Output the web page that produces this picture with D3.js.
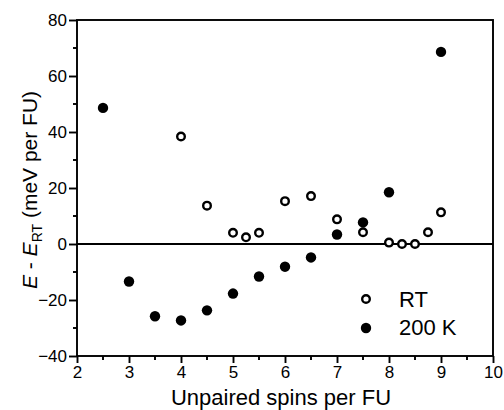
<!DOCTYPE html>
<html><head><meta charset="utf-8">
<script src="https://cdn.jsdelivr.net/npm/d3@7"></script>
<style>
body{margin:0;background:#fff;}
text{font-family:"Liberation Sans",Arial,sans-serif;fill:#000;}
</style></head>
<body><svg id="c" width="504" height="410"></svg>
<script>
const rtX = [4, 4.5, 5, 5.25, 5.5, 6, 6.5, 7, 7.5, 8, 8.25, 8.5, 8.75, 9];
const rtY = [38.4, 13.7, 4.0, 2.4, 4.0, 15.3, 17.1, 8.8, 4.2, 0.5, 0, 0, 4.2, 11.3];
const k200X = [2.5, 3, 3.5, 4, 4.5, 5, 5.5, 6, 6.5, 7, 7.5, 8, 9];
const k200Y = [48.6, -13.4, -25.8, -27.3, -23.7, -17.7, -11.6, -8.1, -4.8, 3.4, 7.7, 18.5, 68.6];
const xTicks = [2, 3, 4, 5, 6, 7, 8, 9, 10];
const yTicks = [-40, -20, 0, 20, 40, 60, 80];
const legendLabels = ["RT", "200 K"];

const svg = d3.select("#c");
const L = 77, R = 493, T = 20, B = 356;
const x = d3.scaleLinear().domain([2, 10]).range([L, R]);
const y = d3.scaleLinear().domain([-40, 80]).range([B, T]);
const SW = 1.9;

// box
svg.append("rect").attr("x", L).attr("y", T).attr("width", R - L).attr("height", B - T)
  .attr("fill", "none").attr("stroke", "#000").attr("stroke-width", SW);

// zero line
svg.append("line").attr("x1", L).attr("x2", R).attr("y1", y(0)).attr("y2", y(0))
  .attr("stroke", "#000").attr("stroke-width", SW);

// x axis
const xMinor = d3.range(2.5, 10, 1);
const gx = svg.append("g").attr("transform", `translate(0,${B})`)
  .call(d3.axisBottom(x).tickValues(xTicks).tickFormat(d3.format("d")).tickSize(7).tickPadding(3));
gx.select(".domain").remove();
gx.selectAll("line").attr("stroke", "#000").attr("stroke-width", SW);
gx.selectAll("text").attr("fill", "#000").style("font-size", "17px").style("font-family", "Liberation Sans, Arial, sans-serif");
svg.append("g").selectAll("line").data(xMinor).join("line")
  .attr("x1", d => x(d)).attr("x2", d => x(d)).attr("y1", B).attr("y2", B + 4)
  .attr("stroke", "#000").attr("stroke-width", SW);

// y axis
const yMinor = d3.range(-30, 80, 20);
const gy = svg.append("g").attr("transform", `translate(${L},0)`)
  .call(d3.axisLeft(y).tickValues(yTicks).tickFormat(d3.format("d")).tickSize(8).tickPadding(2));
gy.select(".domain").remove();
gy.selectAll("line").attr("stroke", "#000").attr("stroke-width", SW);
gy.selectAll("text").attr("fill", "#000").style("font-size", "17px").style("font-family", "Liberation Sans, Arial, sans-serif");
svg.append("g").selectAll("line").data(yMinor).join("line")
  .attr("x1", L - 4).attr("x2", L).attr("y1", d => y(d)).attr("y2", d => y(d))
  .attr("stroke", "#000").attr("stroke-width", SW);

// axis titles
svg.append("text").attr("x", (L + R) / 2 - 4).attr("y", 405).attr("text-anchor", "middle")
  .style("font-size", "22px").text("Unpaired spins per FU");

const yt = svg.append("text").attr("transform", `translate(37,${(T + B) / 2 + 2}) rotate(-90)`)
  .attr("text-anchor", "middle").style("font-size", "21px");
yt.append("tspan").style("font-style", "italic").text("E");
yt.append("tspan").text(" - ");
yt.append("tspan").style("font-style", "italic").text("E");
yt.append("tspan").attr("dy", 5).style("font-size", "14px").text("RT");
yt.append("tspan").attr("dy", -5).text(" (meV per FU)");

// data
svg.append("g").selectAll("circle").data(k200X).join("circle")
  .attr("cx", d => x(d)).attr("cy", (d, i) => y(k200Y[i])).attr("r", 5.2).attr("fill", "#000");
svg.append("g").selectAll("circle").data(rtX).join("circle")
  .attr("cx", d => x(d)).attr("cy", (d, i) => y(rtY[i])).attr("r", 3.8)
  .attr("fill", "#fff").attr("stroke", "#000").attr("stroke-width", 2.4);

// legend
const lg = svg.append("g");
lg.append("circle").attr("cx", 366).attr("cy", 299).attr("r", 3.8)
  .attr("fill", "#fff").attr("stroke", "#000").attr("stroke-width", 2.4);
lg.append("circle").attr("cx", 366).attr("cy", 328).attr("r", 5.2).attr("fill", "#000");
lg.selectAll("text").data(legendLabels).join("text")
  .attr("x", 399).attr("y", (d, i) => 307 + i * 28).style("font-size", "22px").text(d => d);
</script></body></html>
